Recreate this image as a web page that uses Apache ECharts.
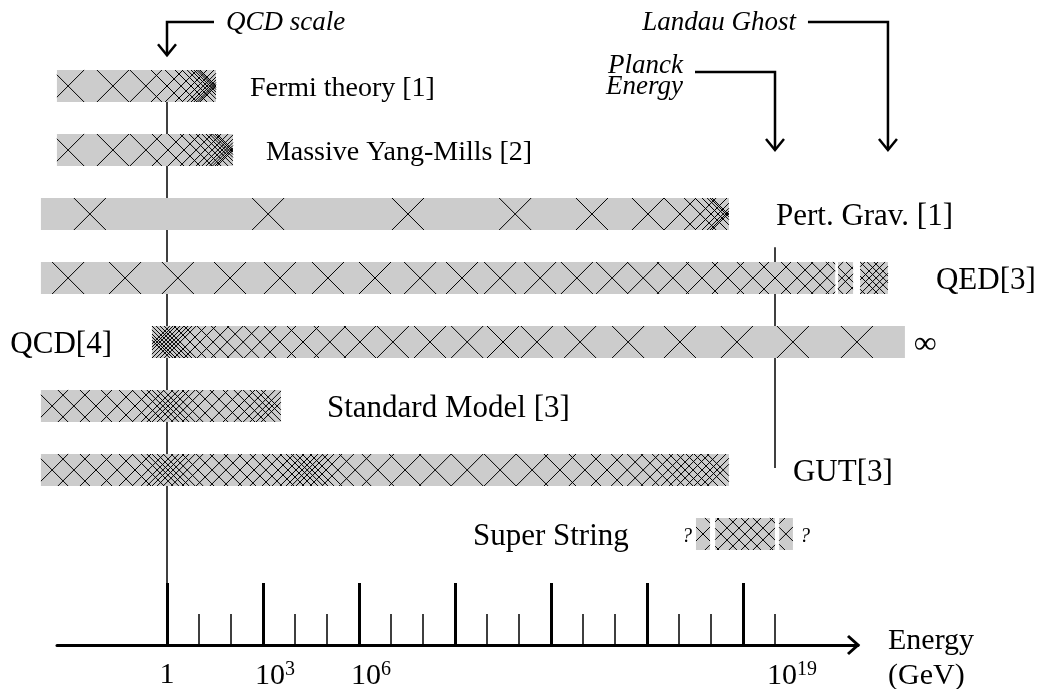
<!DOCTYPE html>
<html><head><meta charset="utf-8">
<script src="https://cdn.jsdelivr.net/npm/echarts@6/dist/echarts.min.js"></script>
<style>html,body{margin:0;padding:0;background:#fff}#c{width:1042px;height:689px}</style>
</head><body><div id="c"></div>
<script>
// ---------- data: energies are log10(E / GeV) ----------
const theories = ['Fermi theory [1]','Massive Yang-Mills [2]','Pert. Grav. [1]','QED[3]','QCD[4]','Standard Model [3]','GUT[3]','Super String'];
const barStart = [-3.44,-3.44,-3.94,-3.94,-0.47,-3.94,-3.94,16.53];
const barEnd   = [ 1.53, 2.06,17.56,20.88,23.06, 3.56,17.56,16.97];
const extraPieces = [[3,20.97,21.44],[3,21.66,22.53],[7,17.13,19.0],[7,19.13,19.56]];
const labelAt   = [2.59,3.09,19.03,24.03,-1.72,5.0,19.56,9.56];
const labelLeft = [false,false,false,false,true,false,false,false];
const extraMarks = [['\u221E',23.69,4],['?',16.25,7],['?',19.94,7]];

const hatchFermi = [-3.09,-1.69,-0.66,0.00,0.44,0.75,0.97,1.13,1.25,1.34,1.42,1.48,1.53];
const hatchYM    = [-3.09,-1.69,-0.66,0.03,0.53,0.91,1.19,1.41,1.59,1.72,1.83,1.92,2.0,2.06];
const hatchGrav  = [-2.41,3.16,7.53,10.88,13.28,15.03,16.03,16.66,17.0,17.22,17.38,17.47,17.53];
const hatchQED   = [-3.09,-1.31,0.34,1.97,3.53,5.03,6.5,7.91,9.22,10.41,11.66,12.81,13.91,14.88,15.81,16.72,17.53,18.31,19.0,19.69,20.19,20.63,21.09,21.31,21.72,21.94,22.16,22.38,22.59];
const hatchQCD   = [-0.41,-0.31,-0.22,-0.09,0.03,0.16,0.28,0.41,0.72,1.03,1.44,1.88,2.38,2.91,3.53,4.25,5.09,6.03,7.06,8.22,9.38,10.5,11.56,12.91,14.41,16.03,17.81,19.56,21.56];
const hatchSM    = [-3.59,-2.91,-2.22,-1.56,-1.0,-0.59,-0.31,-0.13,0.03,0.19,0.38,0.63,0.97,1.41,1.84,2.25,2.59,2.88,3.09,3.28,3.44];
const hatchGUT   = [-3.59,-2.91,-2.22,-1.56,-1.0,-0.59,-0.31,-0.13,0.03,0.19,0.38,0.63,0.97,1.41,1.84,2.28,2.72,3.09,3.47,3.78,4.03,4.22,4.38,4.53,4.72,4.97,5.34,5.88,6.59,7.44,8.38,9.38,10.41,11.41,12.28,13.06,13.75,14.38,14.88,15.31,15.66,15.94,16.19,16.44,16.72,16.97,17.19,17.38];
const hatchString= [16.75,17.31,17.69,18.06,18.44,18.81,19.34];
const hatches = [hatchFermi,hatchYM,hatchGrav,hatchQED,hatchQCD,hatchSM,hatchGUT,hatchString];

const majorTicks = [0,3,6,9,12,15,18];
const minorTicks = [1,2,4,5,7,8,10,11,13,14,16,17,19];
const tickLabels = [0,3,6,19];

const markerNames  = ['QCD scale','Planck\nEnergy','Landau Ghost'];
const markerEnergy = [0,19,22.53];
const refLines = [[0,-0.25,null],[19,2.52,5.97]]; // energy, from row, to row (null = axis)

// ---------- layout / style ----------
const X_MIN = -3.4375, X_MAX = 21.59375, Y_MIN = -1.34375, Y_MAX = 8.734375;
const SERIF = '"Liberation Serif","Times New Roman",serif';
const labelFont = [28,28,31,31,31,31,31,31];
const markerLayout = [
  {armRow:-1.0, tipRow:-0.48, arm: 47, dy:1},
  {armRow:-0.22, tipRow:1.0, arm:-80, dy:4},
  {armRow:-1.0, tipRow:1.0, arm:-80, dy:1}
];

const pieces = theories.map((t,i)=>[i,barStart[i],barEnd[i]]).concat(extraPieces);

function renderBar(params, api){
  const row = api.value(0), a = api.value(1), b = api.value(2);
  const p0 = api.coord([a,row-0.25]), p1 = api.coord([b,row+0.25]);
  const x0=p0[0], x1=p1[0], top=Math.min(p0[1],p1[1]), bot=Math.max(p0[1],p1[1]);
  const h = bot-top;
  const ch = [{type:'rect', shape:{x:x0,y:top,width:x1-x0,height:h}, style:{fill:'#cccccc'}}];
  hatches[row].forEach(c=>{
    const cx = api.coord([c,row])[0];
    const L = cx-h/2, R = cx+h/2;
    const xa = Math.max(x0,L), xb = Math.min(x1,R);
    if (xb<=xa) return;
    const ta=(xa-L), tb=(xb-L);
    ch.push({type:'line', shape:{x1:xa,y1:top+ta,x2:xb,y2:top+tb}, style:{stroke:'#000',lineWidth:1}});
    ch.push({type:'line', shape:{x1:xa,y1:bot-ta,x2:xb,y2:bot-tb}, style:{stroke:'#000',lineWidth:1}});
  });
  return {type:'group', children:ch};
}

function renderLabel(params, api){
  const i = params.dataIndex;
  const p = api.coord([labelAt[i], i+0.04]);
  return {type:'text', x:p[0], y:p[1], style:{text:theories[i], fill:'#000',
    font:labelFont[i]+'px '+SERIF, align: labelLeft[i]?'right':'left', verticalAlign:'middle'}};
}

function renderExtra(params, api){
  const m = extraMarks[params.dataIndex];
  const p = api.coord([m[1], m[2]+0.04]);
  const isQ = m[0]==='?';
  return {type:'text', x:p[0], y:p[1], style:{text:m[0], fill:'#000',
    font:(isQ?'italic 20px ':'32px ')+SERIF, align:'center', verticalAlign:'middle'}};
}

function renderRef(params, api){
  const r = refLines[params.dataIndex];
  const a = api.coord([r[0], r[1]]), b = api.coord([r[0], r[2]===null?Y_MAX:r[2]]);
  return {type:'line', shape:{x1:a[0],y1:a[1],x2:b[0],y2:b[1]}, style:{stroke:'#000',lineWidth:1.5}};
}

function renderMarker(params, api){
  const i = params.dataIndex, lay = markerLayout[i];
  const pArm = api.coord([markerEnergy[i], lay.armRow]);
  const pTip = api.coord([markerEnergy[i], lay.tipRow]);
  const x = pArm[0], yA = pArm[1], yT = pTip[1];
  const sign = lay.arm>0?1:-1;
  return {type:'group', children:[
    {type:'polyline', shape:{points:[[x+lay.arm,yA],[x,yA],[x,yT]]}, style:{stroke:'#000',lineWidth:2.5,fill:null}},
    {type:'polyline', shape:{points:[[x-9,yT-11],[x,yT],[x+9,yT-11]]}, style:{stroke:'#000',lineWidth:2.5,fill:null}},
    {type:'text', x:x+lay.arm+sign*12, y:yA+lay.dy, style:{text:markerNames[i], fill:'#000',
      font:'italic 27px '+SERIF, lineHeight:21, align: sign>0?'left':'right', verticalAlign:'middle'}}
  ]};
}

function renderAxisArrow(params, api){
  const p = api.coord([X_MAX, Y_MAX]);
  return {type:'polyline', shape:{points:[[p[0]-10,p[1]-9],[p[0],p[1]],[p[0]-10,p[1]+9]]},
    style:{stroke:'#000',lineWidth:3,fill:null}};
}

const chart = echarts.init(document.getElementById('c'), null, {renderer:'canvas'});
const tickFmt = v => v===0 ? '{n|1}' : '{p'+String(v).length+'| }{n|10}{s|'+v+'}';
chart.setOption({
  animation:false,
  backgroundColor:'#fff',
  grid:{left:57, right:184, top:0, bottom:44, containLabel:false, outerBoundsMode:'none'},
  xAxis:[{
    type:'value', min:X_MIN, max:X_MAX, position:'bottom',
    axisLine:{show:true, onZero:false, lineStyle:{color:'#000', width:3}},
    axisTick:{show:true, inside:true, length:62, customValues:majorTicks, lineStyle:{color:'#000', width:3}},
    axisLabel:{show:true, customValues:tickLabels, margin:15, formatter:tickFmt,
      rich:{n:{fontFamily:SERIF, fontSize:30, color:'#000', lineHeight:30},
            s:{fontFamily:SERIF, fontSize:20, color:'#000', padding:[0,0,13,0]},
            p1:{width:24, fontSize:10}, p2:{width:34, fontSize:10}}},
    splitLine:{show:false},
    name:'{e|Energy}\n{g|(GeV)}', nameLocation:'end', nameGap:30,
    nameTextStyle:{fontFamily:SERIF, fontSize:30, color:'#000', align:'left', verticalAlign:'middle',
      rich:{e:{fontFamily:SERIF, fontSize:30, color:'#000', lineHeight:63},
            g:{fontFamily:SERIF, fontSize:30, color:'#000', lineHeight:7}}}
  },{
    type:'value', min:X_MIN, max:X_MAX, position:'bottom',
    axisLine:{show:false, onZero:false},
    axisTick:{show:true, inside:true, length:31, customValues:minorTicks, lineStyle:{color:'#000', width:1.5}},
    axisLabel:{show:false}, splitLine:{show:false}
  }],
  yAxis:{type:'value', min:Y_MIN, max:Y_MAX, inverse:true, show:false, splitLine:{show:false}},
  series:[
    {type:'custom', name:'refLines', coordinateSystem:'cartesian2d', clip:false, z:1, silent:true,
     data:refLines.map(r=>[r[0], r[1]]), renderItem:renderRef},
    {type:'custom', name:'theories', coordinateSystem:'cartesian2d', clip:false, z:2, silent:true,
     data:pieces, encode:{x:[1,2], y:0}, renderItem:renderBar},
    {type:'custom', name:'labels', coordinateSystem:'cartesian2d', clip:false, z:3, silent:true,
     data:theories.map((t,i)=>[labelAt[i], i]), renderItem:renderLabel},
    {type:'custom', name:'marks', coordinateSystem:'cartesian2d', clip:false, z:3, silent:true,
     data:extraMarks.map(m=>[m[1], m[2]]), renderItem:renderExtra},
    {type:'custom', name:'markers', coordinateSystem:'cartesian2d', clip:false, z:3, silent:true,
     data:markerEnergy.map(e=>[e,0]), renderItem:renderMarker},
    {type:'custom', name:'axisArrow', coordinateSystem:'cartesian2d', clip:false, z:3, silent:true,
     data:[[X_MAX, Y_MAX]], renderItem:renderAxisArrow}
  ]
});
</script></body></html>
